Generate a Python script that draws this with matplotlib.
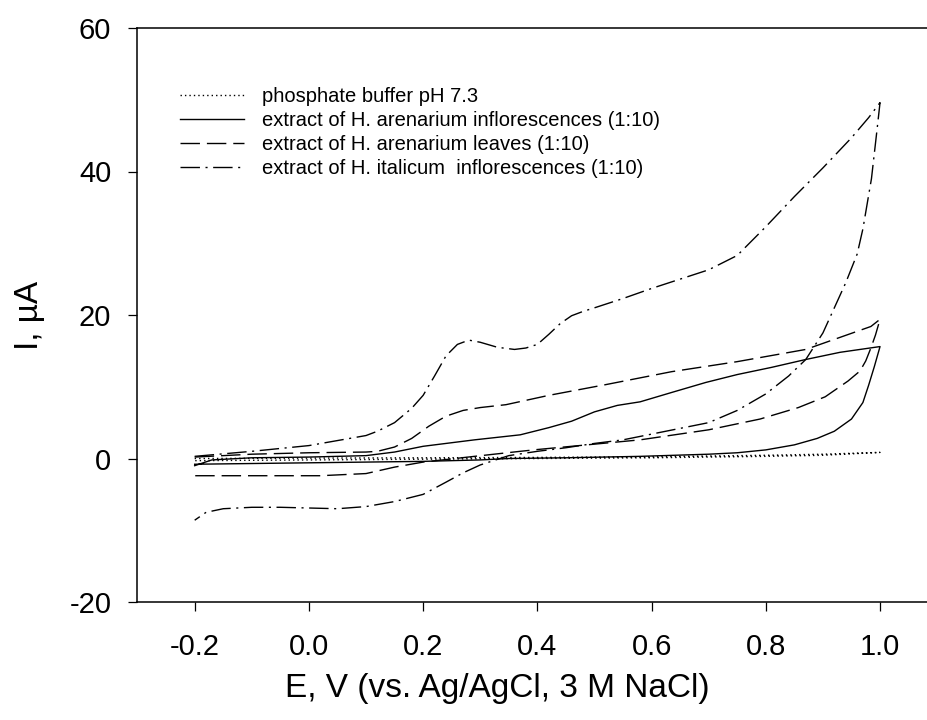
#!/usr/bin/env python3
"""
Cyclic voltammograms of Helichrysum extracts vs. phosphate buffer.
"""
import matplotlib
matplotlib.use("Agg")
import matplotlib.pyplot as plt

plt.rcParams['font.family'] = ['Liberation Sans', 'DejaVu Sans']

# phosphate buffer pH 7.3 (dotted)
buf_fwd_E = [-0.2, 0.0, 0.2, 0.4, 0.6, 0.8, 0.9, 1.0]
buf_fwd_I = [0.0, 0.05, 0.1, 0.15, 0.25, 0.45, 0.6, 0.85]
buf_rev_E = [1.0, 0.9, 0.8, 0.6, 0.4, 0.2, 0.0, -0.2]
buf_rev_I = [0.85, 0.45, 0.3, 0.1, 0.0, -0.1, -0.2, -0.3]

# H. arenarium inflorescences (solid)
inf_fwd_E = [-0.2, -0.17, -0.1, 0.0, 0.1, 0.15, 0.2, 0.29, 0.37, 0.42, 0.46,
             0.5, 0.54, 0.58, 0.635, 0.695, 0.75, 0.81, 0.87, 0.93, 1.0]
inf_fwd_I = [-1.0, -0.2, 0.1, 0.2, 0.4, 0.9, 1.7, 2.6, 3.3, 4.3, 5.2,
             6.5, 7.4, 7.9, 9.2, 10.6, 11.7, 12.7, 13.8, 14.8, 15.6]
inf_rev_E = [1.0, 0.995, 0.99, 0.98, 0.97, 0.95, 0.92, 0.89, 0.85, 0.80,
             0.75, 0.7, 0.58, 0.45, 0.35, 0.3, 0.2, 0.1, 0.0, -0.1, -0.2]
inf_rev_I = [15.6, 14.2, 12.8, 10.2, 7.8, 5.5, 3.8, 2.8, 1.9, 1.2,
             0.8, 0.6, 0.3, 0.1, 0.0, -0.2, -0.4, -0.5, -0.6, -0.7, -0.8]

# H. arenarium leaves (dashed)
lea_fwd_E = [-0.2, -0.1, 0.0, 0.1, 0.12, 0.15, 0.18, 0.21, 0.24, 0.27, 0.30,
             0.345, 0.42, 0.52, 0.635, 0.75, 0.87, 0.927, 0.984, 1.0]
lea_fwd_I = [0.2, 0.6, 0.8, 0.9, 1.0, 1.6, 2.8, 4.5, 5.9, 6.7, 7.1,
             7.5, 8.8, 10.3, 12.1, 13.5, 15.2, 16.8, 18.4, 19.4]
lea_rev_E = [1.0, 0.992, 0.984, 0.975, 0.965, 0.944, 0.904, 0.857, 0.79, 0.7,
             0.58, 0.46, 0.4, 0.37, 0.29, 0.2, 0.15, 0.1, 0.02, -0.1, -0.2]
lea_rev_I = [19.4, 17.2, 15.4, 13.6, 12.2, 10.8, 8.6, 7.1, 5.5, 4.0,
             2.6, 1.7, 1.25, 1.0, 0.3, -0.5, -1.2, -2.1, -2.4, -2.4, -2.4]

# H. italicum inflorescences (dash-dot)
ita_fwd_E = [-0.2, -0.1, 0.0, 0.1, 0.12, 0.15, 0.18, 0.2, 0.22, 0.24, 0.26,
             0.28, 0.30, 0.33, 0.36, 0.38, 0.40, 0.42, 0.44, 0.46, 0.48,
             0.50, 0.55, 0.60, 0.65, 0.70, 0.75, 0.80, 0.85, 0.90, 0.95,
             0.98, 1.0]
ita_fwd_I = [0.3, 1.0, 1.8, 3.2, 3.8, 5.0, 7.0, 8.8, 11.5, 14.3, 15.9,
             16.5, 16.2, 15.5, 15.2, 15.4, 15.9, 17.3, 18.8, 19.9, 20.5,
             21.0, 22.3, 23.7, 25.0, 26.3, 28.3, 32.3, 36.5, 40.5, 44.7,
             47.5, 49.6]
ita_rev_E = [1.0, 0.995, 0.985, 0.97, 0.96, 0.94, 0.92, 0.90, 0.87, 0.84,
             0.80, 0.75, 0.70, 0.65, 0.60, 0.55, 0.50, 0.45, 0.40, 0.35,
             0.30, 0.27, 0.24, 0.20, 0.15, 0.10, 0.05, 0.0, -0.05, -0.10,
             -0.15, -0.18, -0.2]
ita_rev_I = [49.6, 46.0, 39.0, 32.0, 28.5, 24.5, 21.0, 17.5, 13.8, 11.5,
             9.0, 6.7, 5.0, 4.2, 3.4, 2.6, 2.1, 1.5, 1.0, 0.4,
             -0.9, -2.0, -3.3, -5.0, -6.0, -6.7, -7.0, -6.9, -6.8, -6.8,
             -7.0, -7.5, -8.6]

labels = ["phosphate buffer pH 7.3",
          "extract of H. arenarium inflorescences (1:10)",
          "extract of H. arenarium leaves (1:10)",
          "extract of H. italicum  inflorescences (1:10)"]

fig = plt.figure(figsize=(9.28, 7.2), dpi=100)
ax = fig.add_axes([137 / 928, 1 - 602 / 720, 1 - 137 / 928, 574 / 720])

curves = [
    (buf_fwd_E + buf_rev_E, buf_fwd_I + buf_rev_I, (0, (1, 2.2))),
    (inf_fwd_E + inf_rev_E, inf_fwd_I + inf_rev_I, '-'),
    (lea_fwd_E + lea_rev_E, lea_fwd_I + lea_rev_I, (0, (14, 5))),
    (ita_fwd_E + ita_rev_E, ita_fwd_I + ita_rev_I, (0, (14, 4, 1.5, 4))),
]
for (E, I, ls), lab in zip(curves, labels):
    ax.plot(E, I, color='black', linestyle=ls, linewidth=1.0, label=lab)

ax.set_xlim(-0.301, 1.084)
ax.set_ylim(-20, 60)
ax.set_xticks([-0.2, 0.0, 0.2, 0.4, 0.6, 0.8, 1.0])
ax.set_xticklabels(['-0.2', '0.0', '0.2', '0.4', '0.6', '0.8', '1.0'])
ax.set_yticks([-20, 0, 20, 40, 60])
ax.set_yticklabels(['-20', '0', '20', '40', '60'])

ax.spines['right'].set_visible(False)
for s in ['left', 'top', 'bottom']:
    ax.spines[s].set_linewidth(1.1)
ax.tick_params(axis='both', direction='out', length=6.5, width=0.9,
               labelsize=21)
ax.tick_params(axis='x', pad=16)
ax.tick_params(axis='y', pad=12)

ax.set_xlabel('E, V (vs. Ag/AgCl, 3 M NaCl)', fontsize=24)
ax.xaxis.set_label_coords(0.456, -0.124)
ax.set_ylabel('I, µA', fontsize=24)
ax.yaxis.set_label_coords(-0.116, 0.5)

ax.legend(loc='upper left', bbox_to_anchor=(180 / 928, 1 - 87 / 720),
          bbox_transform=fig.transFigure, frameon=False, fontsize=14.5,
          handlelength=3.2, handletextpad=0.85, labelspacing=0.25,
          borderpad=0, borderaxespad=0)

plt.savefig('out.png', dpi=100)
